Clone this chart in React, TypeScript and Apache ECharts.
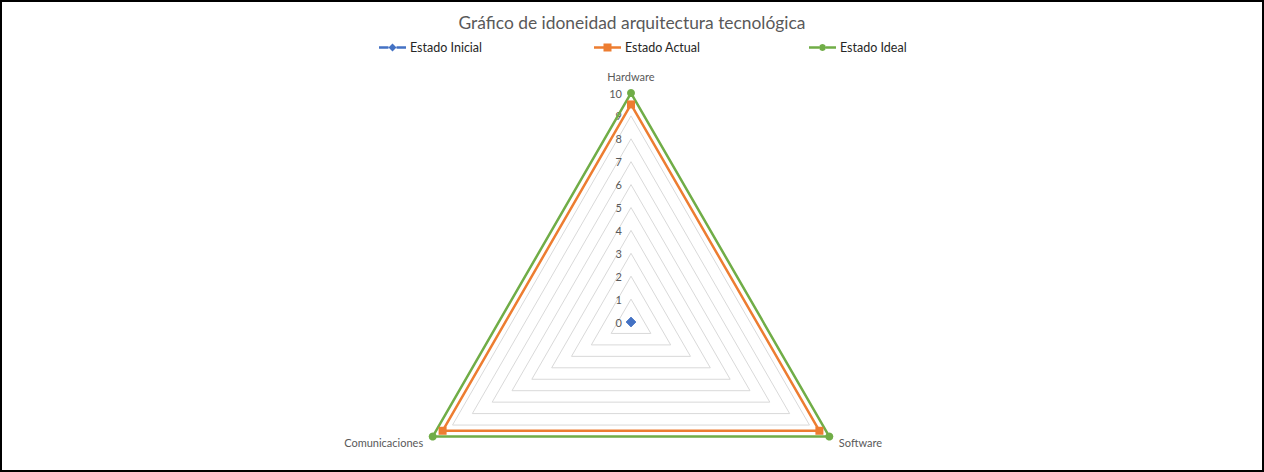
import React, { useEffect, useRef } from "react";
import * as echarts from "echarts";

const chartTitle = "Gráfico de idoneidad arquitectura tecnológica";
const indicatorNames = ["Hardware", "Comunicaciones", "Software"];
const axisMin = 0;
const axisMax = 10;
const seriesNames = ["Estado Inicial", "Estado Actual", "Estado Ideal"];
const estadoInicial = [0, 0, 0];
const estadoActual = [9.5, 9.5, 9.5];
const estadoIdeal = [10, 10, 10];

const colors = ["#4472C4", "#ED7D31", "#70AD47"];
const symbols = ["diamond", "rect", "circle"];
const legendIcons = [
  "path://M0,3.25 L9.5,3.25 L9.5,5.75 L0,5.75 Z M9.5,4.5 L13.5,0.5 L17.5,4.5 L13.5,8.5 Z M17.5,3.25 L27,3.25 L27,5.75 L17.5,5.75 Z",
  "path://M0,3.25 L9.5,3.25 L9.5,5.75 L0,5.75 Z M9.5,0.5 L17.5,0.5 L17.5,8.5 L9.5,8.5 Z M17.5,3.25 L27,3.25 L27,5.75 L17.5,5.75 Z",
  "path://M0,3.25 L10,3.25 L10,5.75 L0,5.75 Z M13.5,1 A3.5,3.5 0 1 1 13.49,1 Z M17,3.25 L27,3.25 L27,5.75 L17,5.75 Z",
];
const legendLefts = [372, 587, 802];

const FONT = "Lato, 'Open Sans', sans-serif";

export default function App() {
  const ref = useRef<HTMLDivElement>(null);
  useEffect(() => {
    if (!ref.current) return;
    const chart = echarts.init(ref.current, undefined, { renderer: "svg" });
    const values = [estadoInicial, estadoActual, estadoIdeal];
    chart.setOption({
      animation: false,
      backgroundColor: "#ffffff",
      textStyle: { fontFamily: FONT },
      title: {
        text: chartTitle,
        left: "center",
        top: 7,
        textStyle: { fontFamily: FONT, fontSize: 17.4, fontWeight: "normal", color: "#595959" },
      },
      legend: seriesNames.map((n, i) => ({
        left: legendLefts[i],
        top: 34,
        itemWidth: 27,
        itemHeight: 9,
        data: [{ name: n, icon: legendIcons[i], itemStyle: { color: colors[i] } }],
        textStyle: { fontFamily: FONT, fontSize: 12.5, color: "#262626", padding: [0, 0, 0, -1] },
        selectedMode: false,
      })),
      radar: {
        center: [629, 320],
        radius: 229,
        startAngle: 90,
        shape: "polygon",
        splitNumber: 10,
        indicator: indicatorNames.map((n, i) => ({
          name: n,
          min: axisMin,
          max: axisMax,
          ...(i === 0
            ? {
                axisLabel: {
                  show: true,
                  color: "#595959",
                  fontSize: 11,
                  fontFamily: FONT,
                  margin: 9,
                },
              }
            : {}),
        })),
        axisName: { color: "#595959", fontSize: 11, fontFamily: FONT },
        nameGap: 11,
        axisLine: { show: false },
        axisTick: { show: false },
        axisLabel: { show: false },
        splitLine: { lineStyle: { color: "#D9D9D9", width: 1 } },
        splitArea: { show: false },
      },
      series: [
        {
          type: "radar",
          data: seriesNames.map((n, i) => ({
            name: n,
            value: values[i],
            symbol: symbols[i],
            symbolSize: i === 0 ? 10 : 8,
            itemStyle: { color: colors[i] },
            lineStyle: { color: colors[i], width: 2.5 },
          })),
        },
      ],
    });
    return () => chart.dispose();
  }, []);
  return (
    <div
      style={{
        position: "fixed",
        left: 0,
        top: 0,
        width: 1264,
        height: 472,
        boxSizing: "border-box",
        border: "2px solid #000",
        background: "#fff",
      }}
    >
      <div ref={ref} style={{ width: 1260, height: 468 }} />
    </div>
  );
}
